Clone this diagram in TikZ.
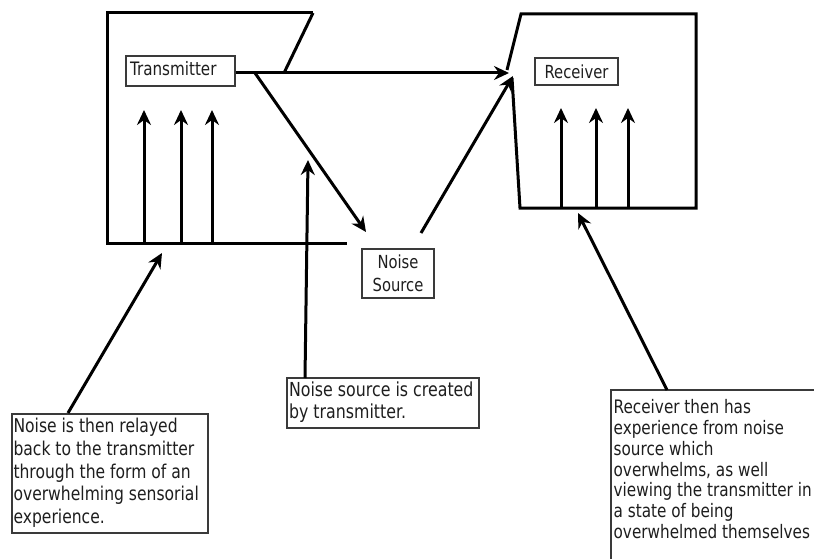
\documentclass[tikz,border=0pt]{standalone}
\usepackage{fontspec}
\setmainfont{DejaVu Sans}[FakeStretch=0.82]
\usetikzlibrary{arrows.meta}
\newcommand\myfs[2]{\fontsize{#1}{#2}\selectfont}
\newcommand\leftlines[2]{\makebox[#1][l]{\begin{tabular}{@{}l@{}}#2\end{tabular}}}
\definecolor{boxgray}{HTML}{3A3A3A}
\definecolor{txt}{HTML}{1E1E1E}
\tikzset{
  bold/.style={line width=3pt, black, line join=miter},
  arr/.style={line width=3pt, black, -{Stealth[length=15pt,width=14pt,inset=5pt]}},
  lbl/.style={draw=boxgray, line width=1.3pt, inner sep=0pt, fill=white, text=txt},
}
\begin{document}
\begin{tikzpicture}[x=1pt,y=-1pt]
\useasboundingbox (0,0) rectangle (814,559);
\clip (0,0) rectangle (814,559);
\fill[white] (0,0) rectangle (814,559);

% ---- transmitter outline
\coordinate (t1) at (313,13);
\coordinate (t2) at (107,13);
\coordinate (t3) at (107,243);
\coordinate (t4) at (347,243);
\coordinate (t5) at (284,73);
\draw[bold] (t1) -- (t2) -- (t3) -- (t4);
\draw[bold] (t1) -- (t5);

% ---- receiver outline
\coordinate (r0) at (507,70);
\coordinate (r1) at (521,14);
\coordinate (r2) at (696,14);
\coordinate (r3) at (696,208);
\coordinate (r4) at (520,208);
\coordinate (r5) at (512,78);
\draw[bold] (r0) -- (r1) -- (r2) -- (r3) -- (r4) -- (r5);

% ---- label boxes
\node[lbl, minimum width=109pt, minimum height=30pt, inner xsep=4pt,
      font=\myfs{18.5}{22}] (tx) at (180.5,71) {\leftlines{101pt}{Transmitter}};
\node[lbl, minimum width=83pt, minimum height=27pt, font=\myfs{18}{22}] (rx) at (576.5,71.5) {Receiver};
\node[lbl, minimum width=72pt, minimum height=49pt, align=center, font=\myfs{18}{23}] (ns) at (398,273.5) {Noise\\Source};
\node[lbl, minimum width=192pt, minimum height=50pt, inner xsep=2pt,
      font=\myfs{19.3}{22.5}] (nc) at (383,403) {\leftlines{188pt}{Noise source is created\\by transmitter.}};
\node[lbl, minimum width=196pt, minimum height=119pt, inner xsep=1.5pt,
      font=\myfs{19}{22.8}] (lb) at (110,473.5) {\leftlines{193pt}{Noise is then relayed\\back to the transmitter\\through the form of an\\overwhelming sensorial\\experience.}};
\node[lbl, draw=none, anchor=north west, inner xsep=2pt, inner ysep=8.4pt, font=\myfs{18.6}{20.8}] (rb) at (611,390)
  {\parbox[c][190pt][t]{260pt}{\begin{tabular}[t]{@{}l@{}}Receiver then has\\experience from noise\\source which\\overwhelms, as well\\viewing the transmitter in\\a state of being\\overwhelmed themselves\end{tabular}}};
\draw[boxgray, line width=1.3pt] (rb.north east) -- (rb.north west) -- (rb.south west);

% ---- main flow arrows
\coordinate (hs) at (237,73);
\coordinate (hd) at (255,73);
\coordinate (rin) at (509,73);
\draw[line width=3pt] (tx.east |- hs) -- (hs);
\draw[arr] (hs) -- (rin);
\draw[arr] (hd) -- (366,232);
\coordinate (nsOut) at (421,233);
\coordinate (rin2) at (513,76);
\draw[arr] (nsOut) -- (rin2);

% ---- arrows inside transmitter
\foreach \x in {144,181,212} \draw[arr] (\x,243) -- (\x,110);
% ---- arrows inside receiver
\foreach \x/\y in {561/208,596/208,628/208} \draw[arr] (\x,\y) -- (\x,108);

% ---- annotation arrows
\coordinate (ncTop) at (305,378);
\draw[arr] (ncTop) -- (308,160);
\coordinate (lbTop) at (68,413);
\draw[arr] (lbTop) -- (162,253);
\coordinate (rbTop) at (667,390);
\draw[arr] (rbTop) -- (578,213);
\end{tikzpicture}
\end{document}
